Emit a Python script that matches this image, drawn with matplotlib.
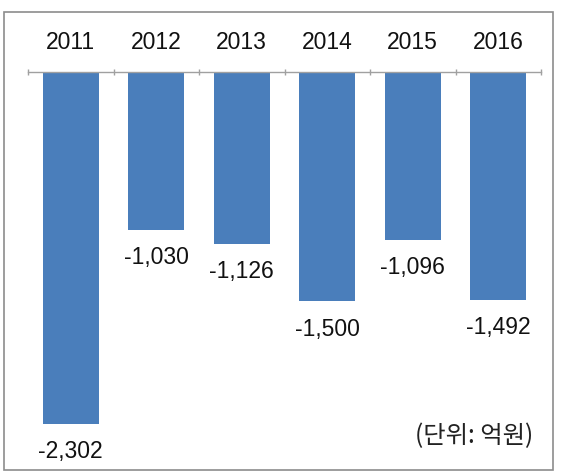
import matplotlib
matplotlib.use("Agg")
import matplotlib.pyplot as plt
from matplotlib.patches import Rectangle

years = ["2011", "2012", "2013", "2014", "2015", "2016"]
values = [-2302, -1030, -1126, -1500, -1096, -1492]
value_labels = ["-2,302", "-1,030", "-1,126", "-1,500", "-1,096", "-1,492"]
unit_note = "(단위: 억원)"

bar_color = "#4a7ebb"
num_font = ["Liberation Sans", "DejaVu Sans"]
kr_font = ["Noto Sans CJK KR", "DejaVu Sans"]

fig = plt.figure(figsize=(5.61, 4.72), dpi=100)
# outer frame like the spreadsheet chart area
fig.patches.append(Rectangle((4 / 561, 2 / 472), 549 / 561, 458 / 472,
                             transform=fig.transFigure, fill=False,
                             edgecolor="#8c8c8c", linewidth=1.2))

# top of axes = value axis at 0
ax = fig.add_axes([28 / 561, 1 - 460 / 472, 513 / 561, 388 / 472])

x = list(range(len(years)))
ax.bar(x, values, width=0.66, color=bar_color, zorder=2)

ax.set_xlim(-0.5, len(years) - 0.5)
ax.set_ylim(-2537, 0)

for xi, v, lab in zip(x, values, value_labels):
    ax.annotate(lab, (xi, v), xytext=(0, -20), textcoords="offset points",
                ha="center", va="center", fontsize=16.5, family=num_font,
                color="#111111")

ax.xaxis.tick_top()
ax.set_xticks(x)
ax.set_xticklabels(years, fontsize=16.5, family=num_font, color="#111111")
ax.set_xticks([i - 0.5 for i in range(len(years) + 1)], minor=True)
ax.tick_params(axis="x", which="major", length=0, pad=13)
ax.tick_params(axis="x", which="minor", length=5, direction="inout",
               color="#a0a0a0", width=1)
ax.set_yticks([])

for side in ["left", "right", "bottom"]:
    ax.spines[side].set_visible(False)
ax.spines["top"].set_color("#a0a0a0")
ax.spines["top"].set_linewidth(1)

fig.text(533 / 561, 1 - 436 / 472, unit_note, ha="right", va="center",
         fontsize=17.5, family=kr_font, color="#222222")

fig.savefig("out.png", dpi=100)
